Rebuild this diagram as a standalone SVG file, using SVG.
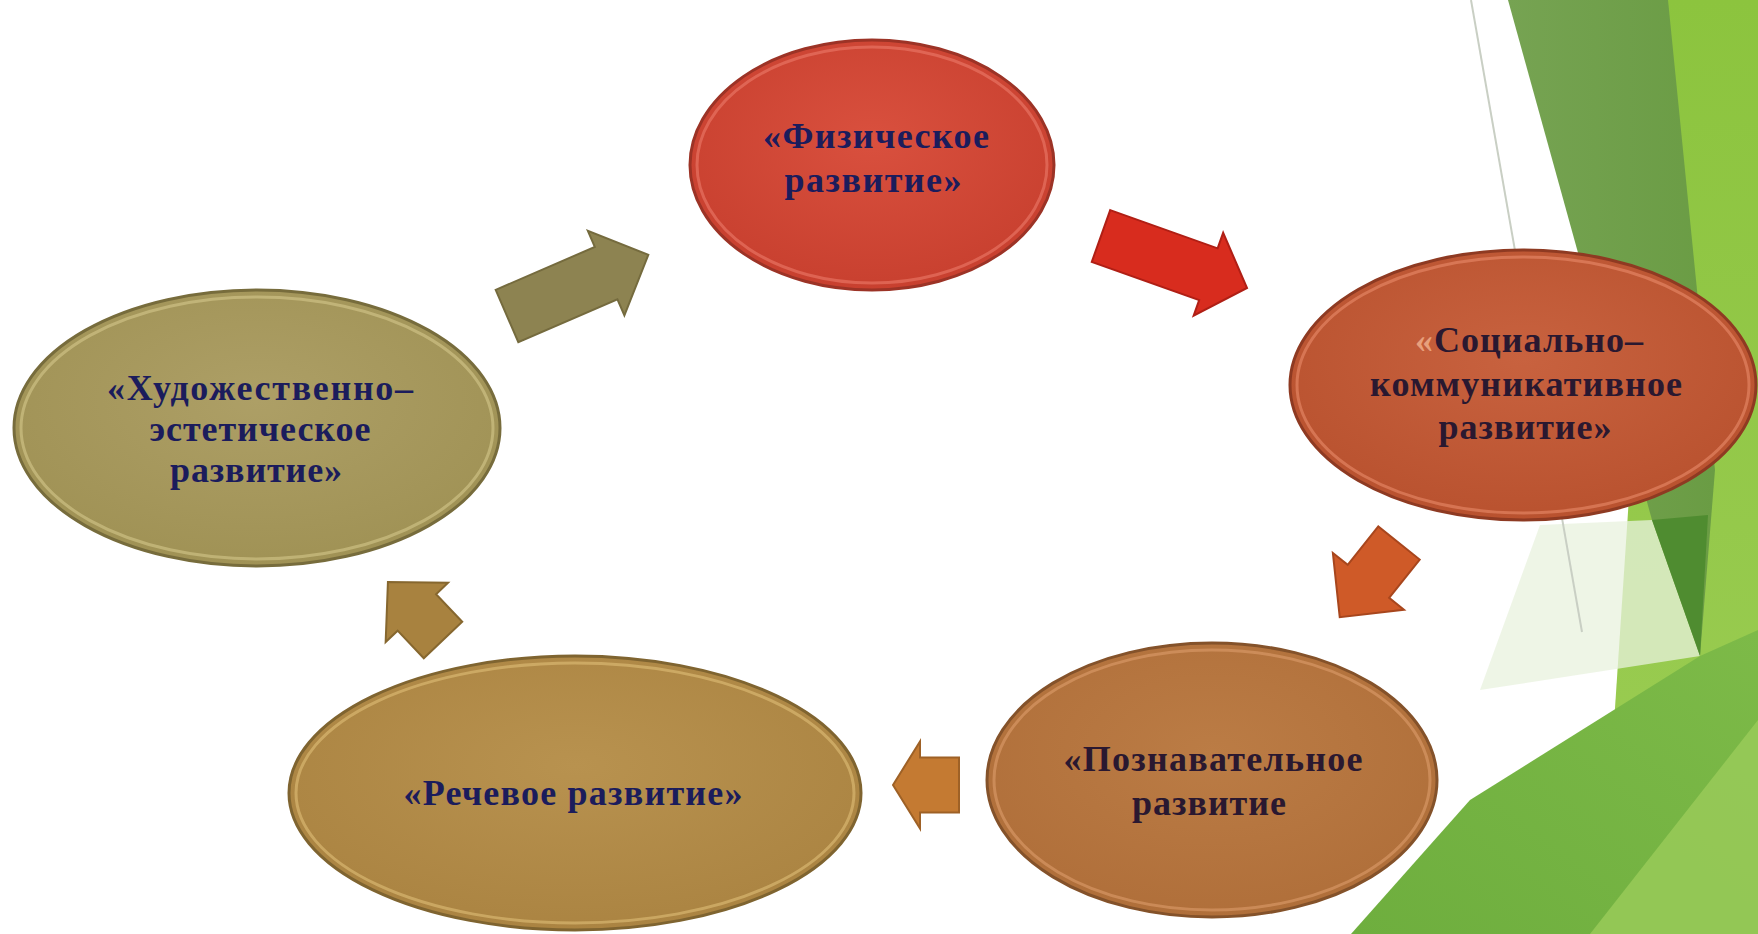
<svg xmlns="http://www.w3.org/2000/svg" width="1758" height="934" viewBox="0 0 1758 934">
<defs>
<style>
.lbl{font-family:"Liberation Serif","Times New Roman",serif;font-weight:bold;font-size:36px;text-anchor:middle}
.navy{fill:#1b1c5c}
.dark{fill:#2a1830}
.rim{fill:none;stroke-width:3;stroke-opacity:0.55}
.arr{stroke-width:2;stroke-linejoin:miter}
</style>
<radialGradient id="gRed" cx="50%" cy="40%" r="60%"><stop offset="0" stop-color="#d9503e"/><stop offset="1" stop-color="#c8402f"/></radialGradient>
<radialGradient id="gSoc" cx="50%" cy="40%" r="60%"><stop offset="0" stop-color="#c8623f"/><stop offset="1" stop-color="#b9522f"/></radialGradient>
<radialGradient id="gPoz" cx="50%" cy="40%" r="60%"><stop offset="0" stop-color="#bb7c45"/><stop offset="1" stop-color="#b06f3a"/></radialGradient>
<radialGradient id="gRec" cx="50%" cy="40%" r="60%"><stop offset="0" stop-color="#b8924f"/><stop offset="1" stop-color="#ab8442"/></radialGradient>
<radialGradient id="gHud" cx="50%" cy="40%" r="60%"><stop offset="0" stop-color="#ad9f66"/><stop offset="1" stop-color="#a09255"/></radialGradient>
<linearGradient id="gGreenTop" x1="0" y1="0" x2="1" y2="0"><stop offset="0" stop-color="#76a352"/><stop offset="1" stop-color="#6a9c44"/></linearGradient>
<linearGradient id="gLime" x1="0" y1="0" x2="0" y2="1"><stop offset="0" stop-color="#8cc43e"/><stop offset="1" stop-color="#9ccd55"/></linearGradient>
<linearGradient id="gBot" x1="0" y1="1" x2="1" y2="0"><stop offset="0" stop-color="#6eae3e"/><stop offset="1" stop-color="#7dba48"/></linearGradient>
</defs>
<rect width="1758" height="934" fill="#ffffff"/>
<g id="background">
<polygon points="1662,0 1758,0 1758,934 1600,934" fill="url(#gLime)"/>
<polygon points="1508,0 1668,0 1715,470 1700,656 1652,520" fill="url(#gGreenTop)"/>
<polygon points="1540,525 1652,520 1700,656 1480,690" fill="#e8f2de" opacity="0.75"/>
<polygon points="1652,520 1708,515 1700,656" fill="#4f8c30"/>
<polygon points="1351,934 1470,800 1700,656 1758,630 1758,934" fill="url(#gBot)"/>
<polygon points="1590,934 1758,720 1758,934" fill="#9bcc5a" opacity="0.8"/>
<line x1="1471" y1="0" x2="1582" y2="632" stroke="#c9cfc4" stroke-width="2"/>
</g>
<g id="connectors">
<path id="a1" class="arr" transform="translate(507,316) rotate(-23.4)" d="M0,-28.5 H108 V-46 L154,0 L108,46 V28.5 H0 Z" fill="#8d8351" stroke="#756b3e"/>
<path id="a2" class="arr" transform="translate(1101,236) rotate(19.6)" d="M0,-27.5 H114 V-44 L155,0 L114,44 V27.5 H0 Z" fill="#d82c1e" stroke="#b01f15"/>
<path id="a3" class="arr" transform="translate(1399,543) rotate(128.6)" d="M0,-26.5 H49 V-45.5 L95,0 L49,45.5 V26.5 H0 Z" fill="#cf5a28" stroke="#a8461d"/>
<path id="a4" class="arr" transform="translate(959,785) rotate(180)" d="M0,-27.5 H39 V-43.5 L66,0 L39,43.5 V27.5 H0 Z" fill="#c47a32" stroke="#9e6126"/>
<path id="a5" class="arr" transform="translate(443,640) rotate(-133.5)" d="M0,-26.5 H38 V-43 L80,0 L38,43 V26.5 H0 Z" fill="#a8823f" stroke="#86672f"/>
</g>
<g id="n-fiz">
<ellipse cx="872" cy="165" rx="182" ry="125" fill="url(#gRed)" stroke="#9c3326" stroke-width="3"/>
<ellipse class="rim" cx="872" cy="165" rx="175" ry="118" stroke="#ee8070"/>
<text class="lbl navy" x="876" y="148" textLength="226">«Физическое</text>
<text class="lbl navy" x="873" y="192" textLength="177">развитие»</text>
</g>
<g id="n-soc">
<ellipse cx="1523" cy="385" rx="233" ry="135" fill="url(#gSoc)" stroke="#8e3a22" stroke-width="3"/>
<ellipse class="rim" cx="1523" cy="385" rx="226" ry="128" stroke="#ec9070"/>
<text class="lbl dark" x="1529" y="352" textLength="228"><tspan fill="#e8a07c">«</tspan>Социально–</text>
<text class="lbl dark" x="1526" y="396" textLength="312">коммуникативное</text>
<text class="lbl dark" x="1525" y="439" textLength="173">развитие»</text>
</g>
<g id="n-poz">
<ellipse cx="1212" cy="780" rx="225" ry="137" fill="url(#gPoz)" stroke="#84522a" stroke-width="3"/>
<ellipse class="rim" cx="1212" cy="780" rx="218" ry="130" stroke="#e0a070"/>
<text class="lbl dark" x="1213" y="771" textLength="299">«Познавательное</text>
<text class="lbl dark" x="1209" y="815" textLength="154">развитие</text>
</g>
<g id="n-rech">
<ellipse cx="575" cy="793" rx="286" ry="137" fill="url(#gRec)" stroke="#7f6430" stroke-width="3"/>
<ellipse class="rim" cx="575" cy="793" rx="279" ry="130" stroke="#e4c27c"/>
<text class="lbl navy" x="573" y="805" textLength="339">«Речевое развитие»</text>
</g>
<g id="n-hud">
<ellipse cx="257" cy="428" rx="243" ry="138" fill="url(#gHud)" stroke="#776c3c" stroke-width="3"/>
<ellipse class="rim" cx="257" cy="428" rx="236" ry="131" stroke="#d8cc90"/>
<text class="lbl navy" x="260" y="400" textLength="306">«Художественно–</text>
<text class="lbl navy" x="260" y="441" textLength="221">эстетическое</text>
<text class="lbl navy" x="256" y="482" textLength="172">развитие»</text>
</g>
</svg>
